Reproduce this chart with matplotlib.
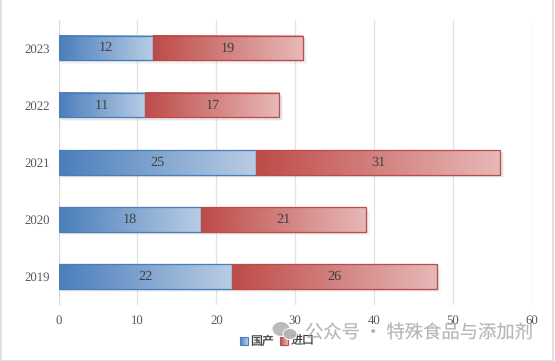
import numpy as np
import matplotlib
matplotlib.use('Agg')
import matplotlib.pyplot as plt
import matplotlib.patheffects as pe
from matplotlib.colors import LinearSegmentedColormap
from matplotlib.patches import Rectangle, Ellipse

plt.rcParams['text.hinting'] = 'none'
plt.rcParams['text.kerning_factor'] = 6

years = ['2019', '2020', '2021', '2022', '2023']
domestic = [22, 18, 25, 11, 12]
imported = [26, 21, 31, 17, 19]
xticks = [0, 10, 20, 30, 40, 50, 60]

W, H = 555, 361
blue_map = LinearSegmentedColormap.from_list('b', ['#4a7ebb', '#b9cde5'])
red_map = LinearSegmentedColormap.from_list('r', ['#be4b48', '#e6b9b8'])
grad = np.linspace(0, 1, 256).reshape(1, -1)

fig = plt.figure(figsize=(W / 100, H / 100), dpi=100)
# axes box in pixels of the reference
ax = fig.add_axes([58.5 / W, 1 - 305 / H, (532 - 58.5) / W, (305 - 19.5) / H])

y = np.arange(len(years))
height = 0.43

# Stacked bars, then a gradient clipped into each one
shadow = [pe.SimplePatchShadow(offset=(2.5, -2.5), shadow_rgbFace='#888888', alpha=0.08),
          pe.SimplePatchShadow(offset=(1.5, -1.5), shadow_rgbFace='#888888', alpha=0.14),
          pe.Normal()]
for vals, left, cmap, edge in [(domestic, None, blue_map, '#4a7ebb'),
                               (imported, domestic, red_map, '#be4b48')]:
    bars = ax.barh(y, vals, height, left=left, facecolor='none', edgecolor=edge,
                   linewidth=0.9, zorder=4)
    for b, v in zip(bars, vals):
        x0, y0, w, h = b.get_x(), b.get_y(), b.get_width(), b.get_height()
        back = Rectangle((x0, y0), w, h, facecolor='white', edgecolor='none', zorder=2,
                         path_effects=shadow)
        ax.add_patch(back)
        ax.imshow(grad, extent=(x0, x0 + w, y0, y0 + h), cmap=cmap, aspect='auto', zorder=3)
        ax.text(x0 + w / 2, y0 + h / 2, str(v), ha='center', va='center', zorder=5,
                family='Liberation Serif', fontsize=10.3, color='#404040')

ax.set_xlim(0, 60)
ax.set_ylim(-0.5, 4.5)
ax.set_yticks(y)
ax.set_yticklabels(years, family='Liberation Serif', fontsize=9.2, color='#595959')
ax.set_xticks(xticks)
ax.set_xticklabels(xticks, family='Liberation Serif', fontsize=9.2, color='#595959')
ax.tick_params(length=0, pad=7, axis='x')
ax.tick_params(length=0, pad=6, axis='y')
ax.grid(axis='x', color='#e3e3e3', linewidth=0.9, zorder=0)
ax.set_axisbelow(True)
for s in ax.spines.values():
    s.set_visible(False)
ax.axvline(0, color='#d9d9d9', linewidth=0.9, zorder=1)

# Overlay in pixel coordinates: frame, legend, watermark
ov = fig.add_axes([0, 0, 1, 1], facecolor='none')
ov.add_patch(Rectangle((0.5, -3), W - 2.5, H + 2.5, fill=False, edgecolor='#d9d9d9', linewidth=1.2))

cjk = ['Noto Sans CJK SC', 'DejaVu Sans']
for sx, tx, cmap, edge, label in [(239.5, 250.5, blue_map, '#4a7ebb', '国产'),
                                  (279.5, 290.5, red_map, '#be4b48', '进口')]:
    ov.imshow(grad, extent=(sx, sx + 8, 345, 337), cmap=cmap, aspect='auto', zorder=3)
    ov.add_patch(Rectangle((sx, 337), 8, 8, fill=False, edgecolor=edge, linewidth=0.8, zorder=4))
    ov.text(tx, 341, label, family=cjk, fontsize=8.6, color='#404040', va='center', ha='left', zorder=5)
ov.set_xlim(0, W)
ov.set_ylim(H, 0)
ov.axis('off')

# Watermark
ov.text(305, 333, '公众号 · 特殊食品与添加剂', family=cjk, fontsize=13.2, color='#a6a6a6',
        alpha=0.8, va='center', ha='left', zorder=6)
ov.add_patch(Ellipse((281, 329), 17, 14, facecolor='#b0b0b0', alpha=0.85, zorder=6))
ov.add_patch(Ellipse((290, 334), 14, 11, facecolor='#b0b0b0', edgecolor='white', linewidth=0.8,
                     alpha=0.9, zorder=6))

fig.savefig('out.png', dpi=100)
